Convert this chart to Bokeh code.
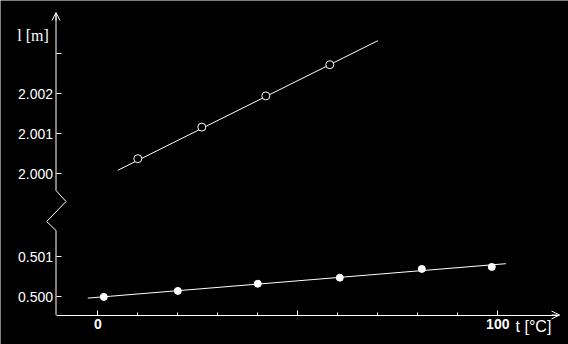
from bokeh.plotting import figure
from bokeh.models import Range1d, LinearAxis, FixedTicker, Label, Arrow, OpenHead
from bokeh.embed import file_html
from bokeh.resources import INLINE

# ---- data ----
upper_t = [10, 26, 42, 58]
upper_l = [2.00037, 2.00116, 2.00194, 2.00272]
upper_fit_t = [5, 70]
upper_fit_l = [2.00008, 2.00332]

lower_t = [1.5, 20, 40, 60.5, 81, 98.5]
lower_l = [0.49999, 0.50014, 0.50032, 0.50047, 0.50069, 0.50074]
lower_fit_t = [-2.5, 102]
lower_fit_l = [0.49996, 0.50082]

upper_ticks = [2.000, 2.001, 2.002, 2.003]
upper_tick_labels = ["2.000", "2.001", "2.002", ""]
lower_ticks = [0.500, 0.501]
lower_tick_labels = ["0.500", "0.501"]

x_major_ticks = [0, 50, 100]
x_major_labels = ["0", "", "100"]
x_minor_ticks = [10, 20, 30, 40, 60, 70, 80, 90]

x_title = "t [°C]"
y_title = "l [m]"

# ---- broken y-axis mapping (two bands on one scale) ----
SCALE = 40000.0
UPPER_OFFSET = 123.0


def y_lower(vals):
    return [(v - 0.5) * SCALE for v in vals]


def y_upper(vals):
    return [(v - 2.0) * SCALE + UPPER_OFFSET for v in vals]


PX = 0.25                      # x data units per pixel
XMIN, XMAX = -24.325, 117.675
YMIN, YMAX = -48, 296
X0 = -10.45                    # where the y axis stands
Y0 = -18.5                     # where the x axis lies
X_TIP = 115.425                # x-axis arrow tip
Y_TIP = 284                    # y-axis arrow tip

p = figure(width=568, height=344, x_range=Range1d(XMIN, XMAX), y_range=Range1d(YMIN, YMAX),
           output_backend="svg", toolbar_location=None,
           x_axis_location=None, y_axis_location=None,
           min_border=0, min_border_left=0, min_border_right=0,
           min_border_top=0, min_border_bottom=0,
           background_fill_color="black", border_fill_color="black", outline_line_color=None)
p.grid.visible = False

# x axis
xaxis = LinearAxis(
    ticker=FixedTicker(ticks=x_major_ticks, minor_ticks=x_minor_ticks),
    fixed_location=Y0,
    bounds=(X0, X_TIP),
    axis_line_color="white", axis_line_width=1,
    major_tick_line_color="white", minor_tick_line_color="white",
    major_tick_in=5, major_tick_out=0, minor_tick_in=3, minor_tick_out=0,
    major_label_text_color="white", major_label_text_font="Liberation Sans",
    major_label_text_font_size="14px", major_label_text_font_style="bold",
    major_label_standoff=4,
    major_label_overrides={t: s for t, s in zip(x_major_ticks, x_major_labels)},
)
p.add_layout(xaxis, "below")

# y axis (ticks/labels from bokeh, line drawn with the break)
tick_pos = [round(v) for v in y_lower(lower_ticks)] + [round(v) for v in y_upper(upper_ticks)]
tick_lab = lower_tick_labels + upper_tick_labels
yaxis = LinearAxis(
    ticker=FixedTicker(ticks=tick_pos, minor_ticks=[]),
    fixed_location=X0,
    axis_line_color=None,
    major_tick_line_color="white", minor_tick_line_color=None,
    major_tick_in=5, major_tick_out=0,
    major_label_text_color="white", major_label_text_font="Liberation Sans",
    major_label_text_font_size="14px", major_label_standoff=3,
    major_label_overrides={t: s for t, s in zip(tick_pos, tick_lab)},
)
p.add_layout(yaxis, "left")

# y-axis line with zig-zag break
brk_lo = 66
brk_hi = 106
p.line([X0, X0, X0 - 9.3 * PX, X0 + 10 * PX, X0, X0],
       [Y0, brk_lo, brk_lo + 9, brk_lo + 29, brk_hi, Y_TIP - 2],
       line_color="white", line_width=1)
p.add_layout(Arrow(x_start=X0, y_start=Y_TIP - 8, x_end=X0, y_end=Y_TIP,
                   end=OpenHead(size=8, line_color="white", line_width=1),
                   line_color="white", line_width=1))
p.add_layout(Arrow(x_start=X_TIP - 2, y_start=Y0, x_end=X_TIP, y_end=Y0,
                   end=OpenHead(size=8, line_color="white", line_width=1),
                   line_color="white", line_width=1))

# fitted lines
p.line(upper_fit_t, y_upper(upper_fit_l), line_color="white", line_width=1)
p.line(lower_fit_t, y_lower(lower_fit_l), line_color="white", line_width=1)

# measurement points
p.scatter(upper_t, y_upper(upper_l), marker="circle", size=8,
          fill_color="black", line_color="white", line_width=1)
p.scatter(lower_t, y_lower(lower_l), marker="circle", size=7,
          fill_color="white", line_color="white", line_width=1)

# axis titles
p.add_layout(Label(x=-20.15, y=261, text=y_title, text_color="white",
                   text_font="Liberation Serif", text_font_size="16px",
                   text_baseline="middle", text_align="left"))
p.add_layout(Label(x=104.45, y=-30, text=x_title, text_color="white",
                   text_font="Liberation Sans", text_font_size="16px",
                   text_baseline="middle", text_align="left"))

open("out.html", "w").write(file_html(p, INLINE))
